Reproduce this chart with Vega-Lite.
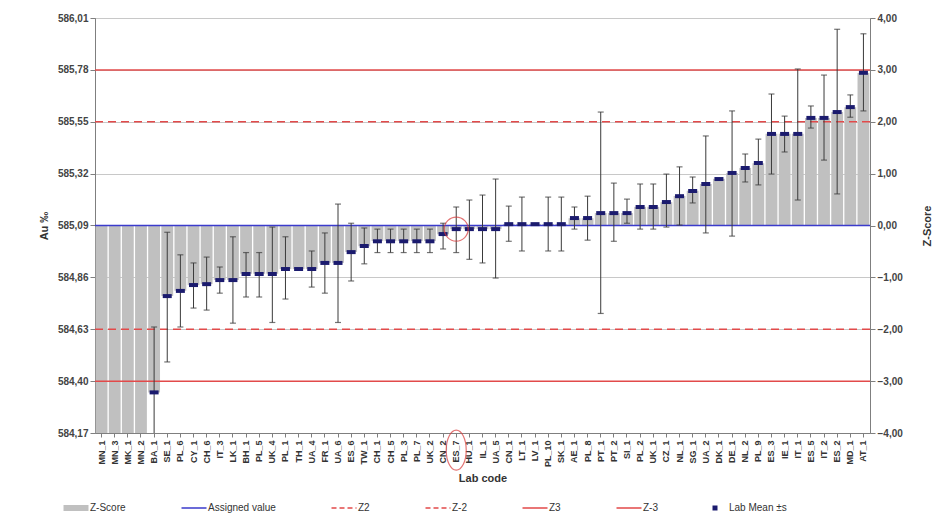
{
  "$schema": "https://vega.github.io/schema/vega-lite/v6.json",
  "width": 775,
  "height": 415,
  "autosize": {"type": "none"},
  "padding": {"left": 95, "top": 18, "right": 73, "bottom": 87},
  "background": "white",
  "config": {
    "font": "Liberation Sans",
    "view": {"stroke": "#8c8c8c", "strokeWidth": 1},
    "axis": {"labelFont": "Liberation Sans", "titleFont": "Liberation Sans", "labelColor": "#444444", "titleColor": "#333333", "domainColor": "#7f7f7f", "tickColor": "#7f7f7f", "labelFontSize": 10, "titleFontSize": 11, "titleFontWeight": "bold"},
    "legend": {
      "orient": "none",
      "direction": "horizontal",
      "legendX": -24,
      "legendY": 485,
      "symbolType": "stroke",
      "symbolSize": 625,
      "symbolStrokeWidth": 6,
      "labelFontSize": 10,
      "labelColor": "#333333",
      "labelOffset": 9,
      "columnPadding": 52,
      "labelLimit": 200,
      "gridAlign": "none"
    }
  },
  "datasets": {
    "labs": [
      {"lab": "MN_1", "m": 583.9, "lo": null, "hi": null, "z": -5.2},
      {"lab": "MN_3", "m": 583.96, "lo": null, "hi": null, "z": -4.9},
      {"lab": "MK_1", "m": 584.01, "lo": null, "hi": null, "z": -4.7},
      {"lab": "MN_2", "m": 584.08, "lo": null, "hi": null, "z": -4.4},
      {"lab": "BA_1", "m": 584.35, "lo": 584.0, "hi": 584.64, "z": -3.22},
      {"lab": "SE_1", "m": 584.777, "lo": 584.485, "hi": 585.06, "z": -1.36},
      {"lab": "PL_6", "m": 584.8, "lo": 584.64, "hi": 584.96, "z": -1.26},
      {"lab": "CY_1", "m": 584.826, "lo": 584.724, "hi": 584.924, "z": -1.15},
      {"lab": "CH_6", "m": 584.83, "lo": 584.715, "hi": 584.95, "z": -1.13},
      {"lab": "IT_3", "m": 584.848, "lo": 584.79, "hi": 584.906, "z": -1.05},
      {"lab": "LK_1", "m": 584.848, "lo": 584.657, "hi": 585.04, "z": -1.05},
      {"lab": "BH_1", "m": 584.875, "lo": 584.773, "hi": 584.97, "z": -0.93},
      {"lab": "PL_5", "m": 584.875, "lo": 584.773, "hi": 584.97, "z": -0.93},
      {"lab": "UK_4", "m": 584.875, "lo": 584.66, "hi": 585.083, "z": -0.93},
      {"lab": "PL_1", "m": 584.897, "lo": 584.764, "hi": 585.04, "z": -0.84},
      {"lab": "TH_1", "m": 584.897, "lo": null, "hi": null, "z": -0.84},
      {"lab": "UA_4", "m": 584.897, "lo": 584.817, "hi": 584.977, "z": -0.84},
      {"lab": "FR_1", "m": 584.924, "lo": 584.79, "hi": 585.057, "z": -0.72},
      {"lab": "UA_6", "m": 584.924, "lo": 584.66, "hi": 585.185, "z": -0.72},
      {"lab": "ES_6", "m": 584.972, "lo": 584.844, "hi": 585.1, "z": -0.51},
      {"lab": "TW_1", "m": 584.999, "lo": 584.92, "hi": 585.079, "z": -0.4},
      {"lab": "CH_1", "m": 585.02, "lo": 584.97, "hi": 585.074, "z": -0.3},
      {"lab": "CH_5", "m": 585.02, "lo": 584.97, "hi": 585.074, "z": -0.3},
      {"lab": "PL_3", "m": 585.02, "lo": 584.97, "hi": 585.074, "z": -0.3},
      {"lab": "PL_7", "m": 585.02, "lo": 584.97, "hi": 585.074, "z": -0.3},
      {"lab": "UK_2", "m": 585.02, "lo": 584.97, "hi": 585.074, "z": -0.3},
      {"lab": "CN_2", "m": 585.052, "lo": 584.986, "hi": 585.1, "z": -0.17},
      {"lab": "ES_7", "m": 585.074, "lo": 584.97, "hi": 585.172, "z": -0.07},
      {"lab": "HU_1", "m": 585.074, "lo": 584.94, "hi": 585.203, "z": -0.07},
      {"lab": "IL_1", "m": 585.074, "lo": 584.924, "hi": 585.225, "z": -0.07},
      {"lab": "UA_5", "m": 585.074, "lo": 584.857, "hi": 585.296, "z": -0.07},
      {"lab": "CN_1", "m": 585.096, "lo": 585.02, "hi": 585.176, "z": 0.03},
      {"lab": "LT_1", "m": 585.096, "lo": 584.977, "hi": 585.216, "z": 0.03},
      {"lab": "LV_1", "m": 585.096, "lo": null, "hi": null, "z": 0.03},
      {"lab": "PL_10", "m": 585.096, "lo": 584.977, "hi": 585.216, "z": 0.03},
      {"lab": "SK_1", "m": 585.096, "lo": 584.977, "hi": 585.216, "z": 0.03},
      {"lab": "AE_1", "m": 585.123, "lo": 585.074, "hi": 585.172, "z": 0.14},
      {"lab": "PL_8", "m": 585.123, "lo": 585.025, "hi": 585.22, "z": 0.14},
      {"lab": "PT_1", "m": 585.145, "lo": 584.7, "hi": 585.593, "z": 0.24},
      {"lab": "PT_2", "m": 585.145, "lo": 585.02, "hi": 585.278, "z": 0.24},
      {"lab": "SI_1", "m": 585.145, "lo": 585.1, "hi": 585.207, "z": 0.24},
      {"lab": "PL_2", "m": 585.172, "lo": 585.074, "hi": 585.274, "z": 0.36},
      {"lab": "UK_1", "m": 585.172, "lo": 585.074, "hi": 585.274, "z": 0.36},
      {"lab": "CZ_1", "m": 585.194, "lo": 585.083, "hi": 585.318, "z": 0.45},
      {"lab": "NL_1", "m": 585.22, "lo": 585.092, "hi": 585.35, "z": 0.57},
      {"lab": "SG_1", "m": 585.243, "lo": 585.19, "hi": 585.305, "z": 0.67},
      {"lab": "UA_2", "m": 585.274, "lo": 585.057, "hi": 585.487, "z": 0.8},
      {"lab": "DK_1", "m": 585.296, "lo": null, "hi": null, "z": 0.9},
      {"lab": "DE_1", "m": 585.323, "lo": 585.043, "hi": 585.598, "z": 1.01},
      {"lab": "NL_2", "m": 585.345, "lo": 585.283, "hi": 585.407, "z": 1.11},
      {"lab": "PL_9", "m": 585.367, "lo": 585.27, "hi": 585.473, "z": 1.2},
      {"lab": "ES_3", "m": 585.496, "lo": 585.318, "hi": 585.673, "z": 1.77},
      {"lab": "IE_1", "m": 585.496, "lo": 585.416, "hi": 585.575, "z": 1.77},
      {"lab": "IT_1", "m": 585.496, "lo": 585.203, "hi": 585.784, "z": 1.77},
      {"lab": "ES_5", "m": 585.567, "lo": 585.522, "hi": 585.62, "z": 2.07},
      {"lab": "IT_2", "m": 585.567, "lo": 585.38, "hi": 585.757, "z": 2.07},
      {"lab": "ES_2", "m": 585.593, "lo": 585.23, "hi": 585.96, "z": 2.19},
      {"lab": "MD_1", "m": 585.615, "lo": 585.57, "hi": 585.669, "z": 2.28},
      {"lab": "AT_1", "m": 585.767, "lo": 585.598, "hi": 585.94, "z": 2.94}
    ],
    "solidlines": [
      {"series": "Assigned value", "v": 585.09},
      {"series": "Z3", "v": 585.78},
      {"series": "Z-3", "v": 584.4}
    ],
    "dashedlines": [
      {"series": "Z2", "v": 585.55},
      {"series": "Z-2", "v": 584.63}
    ],
    "highlight": [
      {"lab": "ES_7", "m": 585.074, "labelpos": 584.094}
    ]
  },
  "layer": [
    {
      "data": {"name": "labs"},
      "mark": {"type": "bar", "clip": true},
      "encoding": {
        "x": {
          "field": "lab", "type": "nominal", "sort": null,
          "scale": {"paddingInner": 0.1, "paddingOuter": 0.05},
          "axis": {"title": "Lab code", "labelAngle": -90, "labelFontSize": 9, "labelFontWeight": "bold", "labelColor": "#333333", "labelPadding": 3, "tickSize": 4, "titlePadding": 6, "titleFontSize": 11}
        },
        "y": {
          "field": "z", "type": "quantitative",
          "scale": {"domain": [-4, 4], "nice": false, "zero": false},
          "axis": {"orient": "right", "title": "Z-Score", "titleAngle": -90, "titlePadding": 30, "values": [-4, -3, -2, -1, 0, 1, 2, 3, 4], "labelExpr": "replace(format(datum.value, '.2f'), '.', ',')", "grid": false, "tickSize": 5, "labelFontWeight": "bold"}
        },
        "color": {
          "datum": "Z-Score",
          "scale": {
            "domain": ["Z-Score", "Assigned value", "Z2", "Z-2", "Z3", "Z-3", "Lab Mean ±s"],
            "range": ["#c0c0c0", "#3b3bcc", "#e24a4a", "#e24a4a", "#e24a4a", "#e24a4a", "#1b1b6e"]
          },
          "legend": {
            "title": null,
            "direction": "horizontal",
            "orient": "none",
            "legendX": -24,
            "legendY": 485,
            "encode": {
              "symbols": {
                "update": {
                  "shape": {"signal": "datum.value === 'Lab Mean ±s' ? 'square' : 'stroke'"},
                  "size": {"signal": "datum.value === 'Lab Mean ±s' ? 25 : 625"},
                  "strokeWidth": {"signal": "datum.value === 'Z-Score' ? 6 : (datum.value === 'Lab Mean ±s' ? 0 : 1.5)"},
                  "strokeDash": {"signal": "(datum.value === 'Z2' || datum.value === 'Z-2') ? [5, 3] : [1, 0]"},
                  "fill": {"signal": "datum.value === 'Lab Mean ±s' ? '#1b1b6e' : 'transparent'"},
                  "stroke": {"scale": "color", "field": "value"}
                }
              }
            }
          }
        }
      }
    },
    {
      "layer": [
        {
          "data": {"name": "solidlines"},
          "mark": {"type": "rule", "strokeWidth": 1.5},
          "encoding": {
            "y": {
              "field": "v", "type": "quantitative",
              "scale": {"domain": [584.17, 586.01], "nice": false, "zero": false},
              "axis": {"title": "Au ‰", "orient": "left", "values": [584.17, 584.4, 584.63, 584.86, 585.09, 585.32, 585.55, 585.78, 586.01], "labelExpr": "replace(format(datum.value, '.2f'), '.', ',')", "grid": true, "gridColor": "#c8c8c8", "gridWidth": 1, "tickSize": 5, "titlePadding": 8, "labelFontWeight": "bold"}
            },
            "color": {"field": "series", "type": "nominal", "legend": {"title": null}}
          }
        },
        {
          "data": {"name": "dashedlines"},
          "mark": {"type": "rule", "strokeWidth": 1.5, "strokeDash": [8, 5]},
          "encoding": {
            "y": {"field": "v", "type": "quantitative"},
            "color": {"field": "series", "type": "nominal", "legend": {"title": null}}
          }
        },
        {
          "data": {"name": "labs"},
          "mark": {"type": "rule", "color": "#3a3a3a", "strokeWidth": 1, "clip": true},
          "encoding": {
            "x": {"field": "lab", "type": "nominal", "sort": null},
            "y": {"field": "lo", "type": "quantitative"},
            "y2": {"field": "hi"}
          }
        },
        {
          "data": {"name": "labs"},
          "mark": {"type": "tick", "color": "#3a3a3a", "size": 6, "thickness": 1.2, "clip": true},
          "encoding": {
            "x": {"field": "lab", "type": "nominal", "sort": null},
            "y": {"field": "hi", "type": "quantitative"}
          }
        },
        {
          "data": {"name": "labs"},
          "mark": {"type": "tick", "color": "#3a3a3a", "size": 6, "thickness": 1.2, "clip": true},
          "encoding": {
            "x": {"field": "lab", "type": "nominal", "sort": null},
            "y": {"field": "lo", "type": "quantitative"}
          }
        },
        {
          "data": {"name": "labs"},
          "mark": {"type": "tick", "size": 9, "thickness": 4, "opacity": 1, "clip": true},
          "encoding": {
            "x": {"field": "lab", "type": "nominal", "sort": null},
            "y": {"field": "m", "type": "quantitative"},
            "color": {"datum": "Lab Mean ±s", "legend": {"title": null}}
          }
        },
        {
          "data": {"name": "highlight"},
          "mark": {"type": "point", "shape": "circle", "size": 576, "filled": false, "stroke": "#d83a3a", "strokeWidth": 1.2},
          "encoding": {
            "x": {"field": "lab", "type": "nominal", "sort": null},
            "y": {"field": "m", "type": "quantitative"}
          }
        },
        {
          "data": {"name": "highlight"},
          "mark": {"type": "point", "shape": "M0,-1 C0.276,-1 0.5,-0.552 0.5,0 C0.5,0.552 0.276,1 0,1 C-0.276,1 -0.5,0.552 -0.5,0 C-0.5,-0.552 -0.276,-1 0,-1 Z", "size": 1600, "filled": false, "stroke": "#d83a3a", "strokeWidth": 1.2},
          "encoding": {
            "x": {"field": "lab", "type": "nominal", "sort": null},
            "y": {"field": "labelpos", "type": "quantitative"}
          }
        }
      ]
    }
  ],
  "resolve": {"scale": {"y": "independent"}}
}
